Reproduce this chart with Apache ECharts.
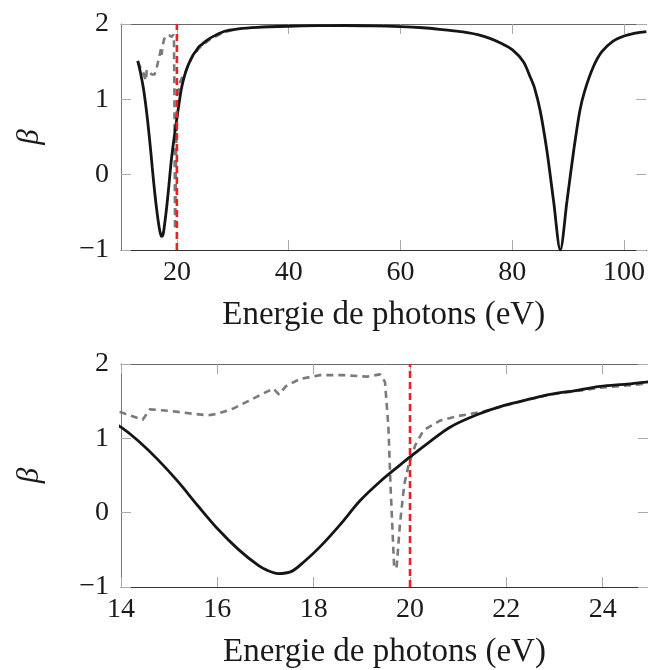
<!DOCTYPE html>
<html>
<head>
<meta charset="utf-8">
<script src="https://cdn.jsdelivr.net/npm/echarts/dist/echarts.min.js"></script>
<style>
html,body{margin:0;padding:0;background:#fff;}
#chart{width:648px;height:670px;}
</style>
</head>
<body>
<div id="chart"></div>
<script>
// ---- data ----
const energySolid = [13.0,13.5,14.0,14.35,14.77,15.18,15.6,16.01,16.43,16.85,17.05,17.26,17.54,17.8,18.13,18.55,18.96,19.38,19.79,20.0,20.4,20.83,21.4,21.94,22.5,22.91,23.5,23.95,24.5,24.95,26,28.4,31,34.4,40,45,50,55,60,64,67,70,72,74,76,78,80,82,83.2,84,85,86.2,87.4,88.6,89.8,91.0,92.1,93,94.5,96,98,100,102,104];
const betaSolid   = [1.51,1.35,1.15,0.97,0.71,0.42,0.09,-0.22,-0.49,-0.71,-0.78,-0.82,-0.79,-0.66,-0.46,-0.16,0.16,0.42,0.64,0.75,0.95,1.15,1.32,1.44,1.53,1.59,1.65,1.70,1.73,1.76,1.815,1.90,1.935,1.955,1.97,1.978,1.98,1.975,1.965,1.95,1.93,1.905,1.885,1.855,1.81,1.745,1.66,1.50,1.30,1.15,0.85,0.32,-0.35,-1.0,-0.35,0.32,0.85,1.12,1.43,1.63,1.77,1.84,1.88,1.90];

const energyDashed = [13.0,13.5,14.0,14.45,14.6,15.0,15.5,15.8,16.0,16.33,16.7,17.16,17.28,17.42,17.72,18.13,18.6,19.1,19.38,19.48,19.55,19.60,19.67,19.72,19.79,19.88,19.97,20.11,20.28,20.63,21.0,21.52,22.08,22.5,22.91,23.5,23.95,24.5,24.95,26,28.4,30];
const betaDashed   = [1.50,1.42,1.35,1.25,1.39,1.37,1.33,1.31,1.33,1.40,1.52,1.67,1.59,1.70,1.80,1.85,1.85,1.83,1.86,1.76,1.17,0.29,-0.73,-0.75,-0.16,0.38,0.64,0.91,1.11,1.24,1.30,1.36,1.46,1.53,1.59,1.64,1.68,1.71,1.74,1.80,1.89,1.92];

const thresholdEnergy = [20, 20];
const thresholdBeta = [-1, 2];

const topTicks = [20, 40, 60, 80, 100];
const bottomTicks = [14, 16, 18, 20, 22, 24];
const yTicks = [-1, 0, 1, 2];

const xTitle = 'Energie de photons (eV)';
const yTitle = 'β';

// ---- build ----
const zip = (a, b) => a.map((v, i) => [v, b[i]]);
const solidData = zip(energySolid, betaSolid);
const dashedData = zip(energyDashed, betaDashed);
const redData = zip(thresholdEnergy, thresholdBeta);

const FONT = '"Liberation Serif", "DejaVu Serif", serif';
const minus = v => String(v).replace('-', '\u2212');

function xMain(grid, min, max, ticks) {
  return {
    type: 'value', gridIndex: grid, min: min, max: max, position: 'bottom',
    name: xTitle, nameLocation: 'middle', nameGap: 49,
    nameTextStyle: { fontFamily: FONT, fontSize: 33, color: '#1a1a1a' },
    axisLine: { show: true, onZero: false, lineStyle: { color: '#333', width: 1.2 } },
    axisTick: { show: true, inside: true, length: 10, customValues: ticks, lineStyle: { color: '#aaa', width: 1 } },
    axisLabel: { show: true, customValues: ticks, margin: 9, fontFamily: FONT, fontSize: 28, color: '#1a1a1a' },
    splitLine: { show: false }
  };
}
function xTop(grid, min, max, ticks) {
  return {
    type: 'value', gridIndex: grid, min: min, max: max, position: 'top',
    axisLine: { show: true, onZero: false, lineStyle: { color: '#666', width: 1 } },
    axisTick: { show: true, inside: true, length: 10, customValues: ticks, lineStyle: { color: '#aaa', width: 1 } },
    axisLabel: { show: false },
    splitLine: { show: false }
  };
}
function yMain(grid) {
  return {
    type: 'value', gridIndex: grid, min: -1, max: 2, position: 'left',
    name: yTitle, nameLocation: 'middle', nameGap: 76, nameRotate: 90,
    nameTextStyle: { fontFamily: FONT, fontStyle: 'italic', fontSize: 31, color: '#1a1a1a' },
    axisLine: { show: true, onZero: false, lineStyle: { color: '#777', width: 1 } },
    axisTick: { show: true, inside: true, length: 10, customValues: yTicks, lineStyle: { color: '#aaa', width: 1 } },
    axisLabel: { show: true, customValues: yTicks, margin: 12, fontFamily: FONT, fontSize: 28, color: '#1a1a1a', formatter: minus },
    splitLine: { show: false }
  };
}
function yRight(grid) {
  return {
    type: 'value', gridIndex: grid, min: -1, max: 2, position: 'right',
    axisLine: { show: false },
    axisTick: { show: true, inside: true, length: 10, customValues: yTicks, lineStyle: { color: '#aaa', width: 1 } },
    axisLabel: { show: false },
    splitLine: { show: false }
  };
}
function seriesFor(xi, yi) {
  return [
    { type: 'line', xAxisIndex: xi, yAxisIndex: yi, data: dashedData, showSymbol: false, smooth: false,
      lineStyle: { color: '#7a7a7a', width: 2.6, type: [7, 5] }, z: 2 },
    { type: 'line', xAxisIndex: xi, yAxisIndex: yi, data: solidData, showSymbol: false, smooth: 0.3,
      lineStyle: { color: '#151515', width: 2.8 }, z: 3 },
    { type: 'line', xAxisIndex: xi, yAxisIndex: yi, data: redData, showSymbol: false,
      lineStyle: { color: '#e8202a', width: 2.6, type: [7, 4] }, z: 4 }
  ];
}

const chart = echarts.init(document.getElementById('chart'), null, { renderer: 'canvas' });
chart.setOption({
  animation: false,
  backgroundColor: '#fff',
  grid: [
    { left: 121, top: 24, width: 527, height: 226 },
    { left: 121, top: 364, width: 527, height: 226 }
  ],
  xAxis: [
    xMain(0, 10, 104, topTicks), xTop(0, 10, 104, topTicks),
    xMain(1, 14, 24.94, bottomTicks), xTop(1, 14, 24.94, bottomTicks)
  ],
  yAxis: [ yMain(0), yRight(0), yMain(1), yRight(1) ],
  series: [].concat(seriesFor(0, 0), seriesFor(2, 2))
});
</script>
</body>
</html>
